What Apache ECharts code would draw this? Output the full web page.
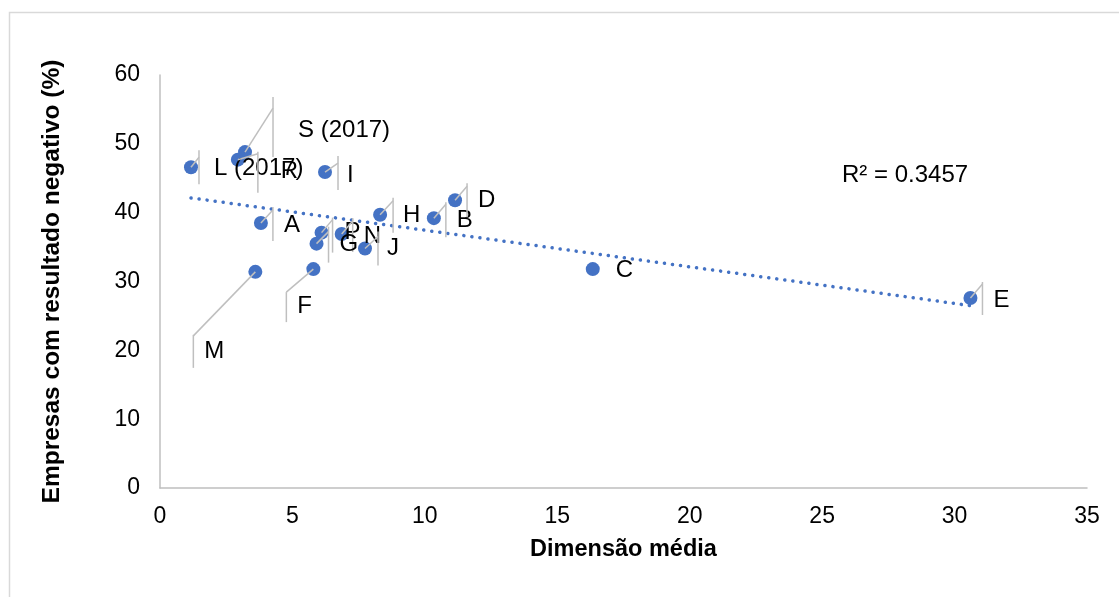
<!DOCTYPE html>
<html>
<head>
<meta charset="utf-8">
<script src="https://cdn.jsdelivr.net/npm/echarts@6/dist/echarts.min.js"></script>
<style>
html,body{margin:0;padding:0;background:#fff;}
#c{width:1119px;height:597px;}
</style>
</head>
<body>
<div id="c"></div>
<script>
// ---- data ----
const names = ['L (2017)','R','S (2017)','I','A','P','N','G','J','H','B','D','F','M','C','E'];
const xVals = [1.17,2.94,3.21,6.23,3.81,6.10,6.86,5.91,7.74,8.31,10.34,11.14,5.79,3.60,16.34,30.6];
const yVals = [46.6,47.7,48.8,45.9,38.5,37.1,36.9,35.5,34.8,39.7,39.2,41.8,31.8,31.4,31.8,27.6];
const xTicks = [0,5,10,15,20,25,30,35];
const yTicks = [0,10,20,30,40,50,60];
const r2Text = 'R² = 0.3457';
const xTitle = 'Dimensão média';
const yTitle = 'Empresas com resultado negativo (%)';

// ---- label layout (pixel offsets relative to the point) ----
// [barDx, leaderDy, barTopDy, barBottomDy, textDx, textDy]  (barDx null = no leader)
const labelLayout = {
  'L (2017)': [8,-10,-17,17,23,1],
  'R':        [20,-6,-8,33,43,12],
  'S (2017)': [28,-44,-55,5,53,-22],
  'I':        [13,-9,-16,18,22,3],
  'A':        [12,-13,-16,18,23,2],
  'P':        [11,-13,-15,20,23,0],
  'N':        [11,-13,-16,18,22,2],
  'G':        [12,-12,-17,19,23,1],
  'J':        [13,-12,-17,17,22,0],
  'H':        [13,-14,-17,18,23,1],
  'B':        [12,-14,-16,19,23,2],
  'D':        [12,-14,-17,17,23,0],
  'F':        [-27,23,23,53,-16,37],
  'M':        [-62,64,63,96,-51,80],
  'C':        [null,0,0,0,23,1],
  'E':        [12,-14,-16,17,23,2]
};

// ---- linear trend from data ----
const n = xVals.length;
const mx = xVals.reduce((a,b)=>a+b,0)/n;
const my = yVals.reduce((a,b)=>a+b,0)/n;
let sxy=0, sxx=0;
for (let i=0;i<n;i++){ sxy+=(xVals[i]-mx)*(yVals[i]-my); sxx+=(xVals[i]-mx)*(xVals[i]-mx); }
const slope = sxy/sxx, icpt = my - slope*mx;
const xMin = Math.min(...xVals), xMax = Math.max(...xVals);
const trend = [[xMin, icpt+slope*xMin],[xMax, icpt+slope*xMax]];

const FONT = "'Liberation Sans', Arial, sans-serif";
const LABEL_FONT = "24px 'Liberation Sans', Arial, sans-serif";
const blue = '#4472C4';
const chart = echarts.init(document.getElementById('c'), null, {renderer:'canvas'});

chart.setOption({
  animation:false,
  backgroundColor:'#fff',
  grid:{left:160, right:32, top:75, bottom:109},
  xAxis:{
    type:'value', min:0, max:35, interval:5,
    name:xTitle, nameLocation:'middle', nameGap:50,
    nameTextStyle:{fontFamily:FONT, fontSize:23.5, fontWeight:'bold', color:'#000'},
    axisLine:{show:true, onZero:false, lineStyle:{color:'#bfbfbf', width:1.5}},
    axisTick:{show:false},
    splitLine:{show:false},
    axisLabel:{fontFamily:FONT, fontSize:23, color:'#000', margin:17}
  },
  yAxis:{
    type:'value', min:0, max:60, interval:10,
    name:yTitle, nameLocation:'middle', nameGap:95, nameRotate:90,
    nameTextStyle:{fontFamily:FONT, fontSize:24.5, fontWeight:'bold', color:'#000'},
    axisLine:{show:true, onZero:false, lineStyle:{color:'#bfbfbf', width:1.5}},
    axisTick:{show:false},
    splitLine:{show:false},
    axisLabel:{fontFamily:FONT, fontSize:23, color:'#000', margin:20}
  },
  series:[
    {
      type:'line', data:trend, symbol:'none', silent:true, z:2,
      lineStyle:{color:blue, width:3.5, type:[0.1,8], cap:'round'}
    },
    {
      type:'scatter', data:xVals.map((x,i)=>[x,yVals[i]]),
      symbol:'circle', symbolSize:14, z:3,
      itemStyle:{color:blue, opacity:1}
    },
    {
      type:'custom', z:4, silent:true,
      data:xVals.map((x,i)=>[x,yVals[i]]),
      renderItem:function(params, api){
        const i = params.dataIndex;
        const p = api.coord([api.value(0), api.value(1)]);
        const o = labelLayout[names[i]];
        const children = [];
        if (o[0] !== null){
          const bx = p[0]+o[0];
          children.push({type:'line', shape:{x1:p[0],y1:p[1],x2:bx,y2:p[1]+o[1]}, style:{stroke:'#bfbfbf', lineWidth:1.5}});
          children.push({type:'line', shape:{x1:bx,y1:p[1]+o[2],x2:bx,y2:p[1]+o[3]}, style:{stroke:'#bfbfbf', lineWidth:1.5}});
        }
        children.push({type:'text', x:p[0]+o[4], y:p[1]+o[5],
          style:{text:names[i], fill:'#000', font:LABEL_FONT, textAlign:'left', textVerticalAlign:'middle'}});
        return {type:'group', children:children};
      }
    }
  ]
});

// R² annotation, anchored to the grid through the chart's coordinate conversion
const rp = chart.convertToPixel({gridIndex:0},[28.13,45.4]);
chart.setOption({graphic:[
  {type:'rect', left:7, top:10, shape:{width:1300,height:800}, style:{fill:'none', stroke:'#d9d9d9', lineWidth:1.5}, z:-10},
  {type:'text', x:rp[0], y:rp[1], style:{text:r2Text, fill:'#000', font:LABEL_FONT, textAlign:'center', textVerticalAlign:'middle'}, z:5}
]});
</script>
</body>
</html>
